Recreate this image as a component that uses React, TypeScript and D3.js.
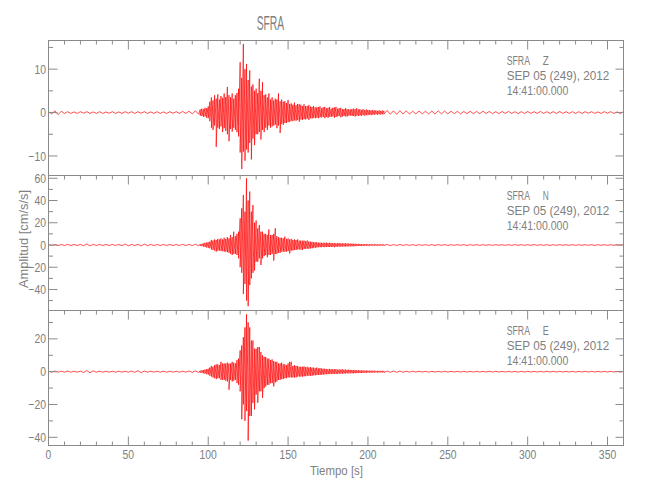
import React from "react";
import * as d3 from "d3";

// ---------------- data ----------------
// Quiet parts are digitised as alternating signed peaks (every 2 s);
// the strong-motion window (95..210 s) as per-second upper / lower envelope values.
const PRE_START = 0, PRE_STEP = 2;
const MAIN_START = 95, MAIN_STEP = 1;
const CODA_START = 212, CODA_STEP = 2;

const zPre = [0.2,-0.3,0.4,-0.5,0.3,-0.2,0.2,-0.2,0.15,-0.2,0.2,-0.15,0.2,-0.2,0.15,-0.2,0.2,-0.2,0.15,-0.15,0.2,-0.2,0.15,-0.2,0.2,-0.15,0.2,-0.2,0.2,-0.15,0.2,-0.2,0.15,-0.2,0.2,-0.2,0.15,-0.2,0.2,-0.15,0.2,-0.2,0.25,-0.2,0.3,-0.3,0.4,-0.4];
const zHi = [0.7,0.9,0.8,1.1,1.0,1.4, 2.5,3.5,2.8,4.0,3.2,4.2,3.0,3.8,3.4,4.4, 3.6,5.9,4.0,3.5,4.4,3.2,4.0,4.5,5.5,11.6, 8.0,15.8,10.0,11.2,7.5,9.7,6.0,6.5,5.0,5.5, 4.5,7.8,5.0,7.0,4.0,4.2,3.5,4.4,3.0,3.5, 2.8,3.2,3.0,4.4,2.6,3.0,2.5,2.6,2.2,2.9, 2.0,2.1,1.8,2.3,1.7,2.0,1.9,1.8,1.5,1.9, 1.5,1.5,1.7,1.4,1.3,1.5,1.2,1.2,1.3,1.4, 1.0,1.2,1.3,1.0,1.1,1.3,0.9,1.1,1.2,1.3, 0.9,1.0,1.1,0.8,0.8,1.0,0.8,0.8,0.7,0.8, 0.9,0.8,1.0,0.7,0.8,0.6,0.8,0.6,0.7,0.6, 0.6,0.5,0.6,0.5,0.5,0.4,0.5,0.4,0.45,0.4];
const zLo = [-0.7,-0.8,-1.0,-0.9,-1.2,-1.3, -2.0,-3.5,-4.0,-3.0,-7.9,-3.5,-3.8,-3.2,-4.5,-3.6, -4.2,-5.0,-6.6,-3.8,-4.4,-3.5,-4.0,-4.5,-5.5,-9.2, -13.0,-9.0,-11.1,-8.5,-9.2,-7.0,-10.8,-6.0,-7.5,-5.0, -5.0,-4.5,-6.2,-4.0,-4.5,-3.5,-4.0,-3.0,-3.5,-3.2, -3.0,-2.8,-3.6,-3.0,-4.7,-2.6,-2.8,-2.4,-2.4,-2.2, -2.2,-1.9,-2.0,-1.8,-1.9,-1.7,-2.1,-1.6,-1.7,-1.5, -1.6,-1.4,-1.7,-1.3,-1.4,-1.2,-1.3,-1.2,-1.3,-1.1, -1.1,-1.0,-1.3,-1.0,-1.2,-1.0,-1.0,-0.9,-1.2,-1.0, -0.9,-0.8,-1.1,-0.9,-0.8,-0.9,-0.9,-0.7,-0.7,-0.8, -0.8,-0.9,-0.7,-0.8,-0.7,-0.7,-0.6,-0.7,-0.6,-0.6, -0.5,-0.6,-0.5,-0.5,-0.4,-0.5,-0.4,-0.45,-0.4,-0.4];
const zCoda = [0.5,-0.4,0.4,-0.4,0.45,-0.35,0.4,-0.35,0.3,-0.3,0.35,-0.3,0.3,-0.3,0.35,-0.35,0.4,-0.3,0.35,-0.3,0.3,-0.25,0.3,-0.3,0.25,-0.25,0.3,-0.25,0.25,-0.25,0.3,-0.2,0.25,-0.25,0.2,-0.25,0.25,-0.2,0.25,-0.2,0.2,-0.25,0.2,-0.2,0.25,-0.2,0.2,-0.2,0.25,-0.2,0.2,-0.2,0.2,-0.2,0.25,-0.2,0.2,-0.2,0.2,-0.2,0.2,-0.2,0.2,-0.15,0.2,-0.2,0.15,-0.2,0.2,-0.15,0.2,-0.2,0.15,-0.2,0.2];

const nPre = [0.5,-0.5,0.4,-0.5,0.4,-0.4,0.5,-0.4,0.4,-0.4,0.5,-0.6,0.9,-0.8,0.6,-0.4,0.4,-0.4,0.4,-0.4,0.5,-0.4,0.5,-0.6,0.9,-0.7,0.5,-0.5,0.6,-0.9,0.8,-0.5,0.4,-0.4,0.4,-0.4,0.4,-0.4,0.4,-0.4,0.4,-0.4,0.5,-0.4,0.5,-0.5,0.6,-0.7];
const nHi = [0.8,1.0,1.5,2.0,2.2,2.5, 3.0,4.5,4.0,5.0,4.5,5.5,5.0,6.0,5.0,6.5, 5.5,7.0,6.0,9.0,7.0,12.0,8.0,10.0,12.0,24.0, 33.0,45.0,30.0,60.0,40.0,48.0,30.0,36.0,20.0,22.0, 15.0,18.0,12.0,12.0,10.0,10.0,9.0,14.0,9.0,9.0, 10.0,15.0,8.0,7.0,6.5,6.5,6.0,7.6,5.5,6.0, 5.0,5.5,4.5,5.0,4.5,5.0,4.0,4.0,3.8,4.0, 3.5,4.0,3.2,3.0,2.8,2.5,2.5,2.5,2.0,2.2, 2.0,2.0,1.9,2.2,1.8,2.0,1.8,1.8,1.7,1.6, 1.5,1.8,1.5,1.5,1.4,1.6,1.3,1.4,1.2,1.2, 1.2,1.1,1.0,1.0,0.9,0.9,0.8,0.8,0.8,0.7, 0.7,0.7,0.6,0.6,0.6,0.5,0.5,0.5,0.5,0.45];
const nLo = [-0.8,-1.0,-1.5,-1.8,-2.2,-2.5, -3.0,-4.0,-4.5,-5.0,-6.0,-5.0,-5.0,-5.5,-5.5,-6.0, -6.0,-6.5,-7.0,-8.0,-9.0,-8.0,-8.0,-9.0,-12.0,-20.0, -25.0,-44.0,-35.0,-50.0,-55.0,-36.0,-30.0,-25.0,-23.0,-15.0, -15.0,-12.0,-18.0,-12.0,-10.0,-9.0,-11.0,-9.0,-9.0,-8.0, -14.0,-8.0,-8.0,-7.0,-7.0,-6.0,-6.0,-6.0,-6.0,-5.5, -7.6,-5.0,-5.0,-4.5,-4.5,-4.0,-4.0,-4.0,-4.5,-3.5, -3.5,-3.2,-3.5,-3.0,-3.0,-2.5,-2.5,-2.2,-2.0,-2.0, -2.0,-1.8,-2.0,-1.8,-1.8,-1.8,-1.8,-1.6,-2.0,-1.5, -1.5,-1.5,-1.5,-1.4,-1.4,-1.3,-1.3,-1.2,-1.2,-1.2, -1.1,-1.1,-1.0,-0.9,-0.9,-0.8,-0.8,-0.8,-0.7,-0.7, -0.7,-0.6,-0.6,-0.6,-0.5,-0.5,-0.5,-0.5,-0.45,-0.45];
const nCoda = [0.5,-0.5,0.4,-0.4,0.4,-0.35,0.35,-0.3,0.3,-0.3,0.3,-0.25,0.3,-0.3,0.25,-0.3,0.3,-0.25,0.3,-0.3,0.25,-0.25,0.3,-0.25,0.25,-0.3,0.25,-0.25,0.3,-0.25,0.25,-0.25,0.25,-0.3,0.25,-0.25,0.25,-0.25,0.25,-0.25,0.3,-0.25,0.25,-0.25,0.25,-0.25,0.3,-0.25,0.25,-0.25,0.25,-0.3,0.25,-0.25,0.25,-0.25,0.25,-0.25,0.3,-0.25,0.25,-0.25,0.25,-0.25,0.25,-0.3,0.25,-0.25,0.25,-0.25,0.25,-0.25,0.25,-0.25,0.25];

const ePre = [0.3,-0.3,0.4,-0.3,0.3,-0.3,0.4,-0.3,0.3,-0.3,0.3,-0.5,0.7,-0.7,0.5,-0.3,0.3,-0.3,0.3,-0.3,0.3,-0.3,0.3,-0.3,0.3,-0.3,0.4,-0.4,0.6,-0.6,0.4,-0.3,0.3,-0.3,0.3,-0.3,0.3,-0.3,0.3,-0.3,0.3,-0.3,0.3,-0.3,0.4,-0.4,0.5,-0.5];
const eHi = [0.6,0.8,1.0,1.3,1.5,1.8, 2.5,3.5,3.0,4.0,4.5,4.5,4.0,6.0,5.0,5.0, 5.0,5.5,5.0,5.0,6.0,5.5,5.0,7.0,8.0,13.0, 16.0,21.0,27.0,35.0,30.0,27.0,19.0,19.0,14.0,14.0, 15.0,15.0,12.0,10.0,9.0,9.0,8.0,8.0,7.0,7.5, 6.5,6.0,6.0,5.0,5.0,5.5,4.5,4.5,4.0,5.0, 6.0,6.0,3.5,4.0,3.5,3.5,3.0,3.0,3.0,3.2, 2.8,3.0,2.5,2.8,2.5,2.5,2.2,2.5,2.0,2.2, 2.0,1.8,1.8,1.6,1.5,1.7,1.5,1.5,1.4,1.6, 1.3,1.4,1.2,1.5,1.2,1.3,1.1,1.2,1.0,1.1, 1.0,1.0,0.9,0.9,0.8,0.8,0.8,0.7,0.7,0.7, 0.6,0.6,0.6,0.6,0.5,0.5,0.5,0.5,0.5,0.45];
const eLo = [-0.6,-0.8,-1.0,-1.2,-1.5,-1.8, -2.5,-3.0,-3.5,-4.0,-4.5,-4.0,-4.0,-5.0,-5.0,-5.0, -5.5,-6.0,-11.0,-5.0,-6.0,-5.5,-5.0,-7.0,-8.0,-12.0, -29.0,-20.0,-30.0,-24.0,-42.0,-27.0,-27.0,-19.0,-23.0,-14.0, -19.0,-12.0,-12.0,-16.0,-10.0,-9.0,-8.0,-8.0,-7.0,-7.0, -9.0,-6.5,-6.0,-5.0,-5.0,-4.5,-4.5,-4.0,-4.0,-3.5, -3.5,-3.5,-3.5,-3.5,-3.5,-3.0,-3.0,-3.0,-3.0,-2.8, -2.8,-2.5,-2.5,-2.5,-2.5,-2.2,-2.2,-2.0,-2.0,-2.0, -1.8,-1.8,-1.6,-1.5,-1.5,-1.5,-1.4,-1.4,-1.3,-1.3, -1.3,-1.2,-1.2,-1.2,-1.1,-1.1,-1.0,-1.0,-1.0,-1.0, -1.0,-0.9,-0.9,-0.8,-0.8,-0.8,-0.7,-0.7,-0.7,-0.6, -0.6,-0.6,-0.6,-0.5,-0.5,-0.5,-0.5,-0.5,-0.45,-0.45];
const eCoda = [0.4,-0.4,0.4,-0.4,0.4,-0.35,0.3,-0.25,0.25,-0.2,0.25,-0.2,0.2,-0.25,0.2,-0.2,0.2,-0.2,0.25,-0.2,0.2,-0.2,0.2,-0.2,0.2,-0.25,0.2,-0.2,0.2,-0.2,0.2,-0.2,0.25,-0.2,0.2,-0.2,0.2,-0.2,0.2,-0.2,0.2,-0.25,0.2,-0.2,0.2,-0.2,0.2,-0.2,0.2,-0.2,0.25,-0.2,0.2,-0.2,0.2,-0.2,0.2,-0.2,0.2,-0.2,0.2,-0.2,0.2,-0.2,0.2,-0.2,0.2,-0.2,0.2,-0.2,0.2,-0.2,0.2,-0.2,0.2];

const components = ["Z", "N", "E"];
const yDomains: [number, number][] = [[-14.5, 16.6], [-58.9, 62.5], [-45.0, 37.3]];
const yMajorTicks = [[-10, 0, 10], [-40, -20, 0, 20, 40, 60], [-40, -20, 0, 20]];
const yMinorSteps = [5, 10, 10];
const xDomain: [number, number] = [0, 360];
const xMajorTicks = [0, 50, 100, 150, 200, 250, 300, 350];
const xMinorStep = 10;

const title = "SFRA";
const station = "SFRA";
const dateLine = "SEP 05 (249), 2012";
const timeLine = "14:41:00.000";
const xLabel = "Tiempo [s]";
const yLabel = "Amplitud [cm/s/s]";

// ---------------- layout ----------------
const W = 650, H = 500;
const LEFT = 48.5, RIGHT = 623.5;
const EDGES = [40.5, 175.5, 310.5, 445.5];
const AXIS = "#8a8a8a";
const TEXT = "#808080";
const FONT = "'Liberation Sans', Arial, sans-serif";

type Pt = { t: number; v: number };
function buildTrace(pre: number[], hi: number[], lo: number[], coda: number[]): Pt[] {
  const out: Pt[] = [];
  pre.forEach((v, i) => out.push({ t: PRE_START + i * PRE_STEP, v }));
  hi.forEach((h, i) => {
    const t = MAIN_START + i * MAIN_STEP;
    out.push({ t, v: h });
    out.push({ t, v: lo[i] });
  });
  coda.forEach((v, i) => out.push({ t: CODA_START + i * CODA_STEP, v }));
  return out;
}
const traces = [
  buildTrace(zPre, zHi, zLo, zCoda),
  buildTrace(nPre, nHi, nLo, nCoda),
  buildTrace(ePre, eHi, eLo, eCoda),
];

const TickLabel = ({ x, y, text, anchor }: { x: number; y: number; text: string; anchor: string }) => (
  <text transform={`translate(${x},${y}) scale(0.8,1)`} textAnchor={anchor} fontSize={13} fill={TEXT} fontFamily={FONT}>
    {text}
  </text>
);

const fmt = (v: number) => (v < 0 ? "\u2212" + Math.abs(v) : String(v));

export default function App() {
  const x = d3.scaleLinear().domain(xDomain).range([LEFT, RIGHT]);
  const xMinor = d3.range(xDomain[0], xDomain[1] + 0.001, xMinorStep);

  return (
    <svg width={W} height={H} style={{ display: "block", position: "absolute", left: 0, top: 0 }}>
      <rect width={W} height={H} fill="#fff" />
      <defs>
        {components.map((c, i) => (
          <clipPath id={`clip${i}`} key={c}>
            <rect x={LEFT} y={EDGES[i]} width={RIGHT - LEFT} height={EDGES[i + 1] - EDGES[i]} />
          </clipPath>
        ))}
      </defs>
      <text x={256.7} y={30} textLength={27.5} lengthAdjust="spacingAndGlyphs" fontSize={20} fill={TEXT} fontFamily={FONT}>
        {title}
      </text>
      {components.map((c, i) => {
        const top = EDGES[i], bottom = EDGES[i + 1];
        const y = d3.scaleLinear().domain(yDomains[i]).range([bottom, top]);
        const line = d3.line<Pt>().x((d) => x(d.t)).y((d) => y(d.v));
        const minorY = d3
          .range(Math.ceil(yDomains[i][0] / yMinorSteps[i]) * yMinorSteps[i], yDomains[i][1] + 0.001, yMinorSteps[i])
          .filter((v) => !yMajorTicks[i].includes(v));
        const isLast = i === components.length - 1;
        return (
          <g key={c}>
            <path d={line(traces[i]) || ""} fill="none" stroke="#ff0000" strokeWidth={0.7} strokeLinejoin="bevel" clipPath={`url(#clip${i})`} />
            <rect x={LEFT} y={top} width={RIGHT - LEFT} height={bottom - top} fill="none" stroke={AXIS} strokeWidth={1} />
            {xMinor.map((t) => {
              const major = xMajorTicks.includes(t);
              const len = major ? 9 : 4;
              return (
                <g key={"xt" + t}>
                  <line x1={x(t)} x2={x(t)} y1={top} y2={top + len} stroke={AXIS} />
                  {isLast && <line x1={x(t)} x2={x(t)} y1={bottom} y2={bottom - len} stroke={AXIS} />}
                </g>
              );
            })}
            {yMajorTicks[i].map((v) => (
              <g key={"ym" + v}>
                <line x1={LEFT} x2={LEFT + 9} y1={y(v)} y2={y(v)} stroke={AXIS} />
                <line x1={RIGHT} x2={RIGHT - 8} y1={y(v)} y2={y(v)} stroke={AXIS} />
                <TickLabel x={46} y={y(v) + 4.6} text={fmt(v)} anchor="end" />
              </g>
            ))}
            {minorY.map((v) => (
              <g key={"yn" + v}>
                <line x1={LEFT} x2={LEFT + 4.5} y1={y(v)} y2={y(v)} stroke={AXIS} />
                <line x1={RIGHT} x2={RIGHT - 4} y1={y(v)} y2={y(v)} stroke={AXIS} />
              </g>
            ))}
            <g fontSize={12} fill={TEXT} fontFamily={FONT}>
              <text x={506.7} y={top + 24.5} textLength={23.3} lengthAdjust="spacingAndGlyphs">{station}</text>
              <text x={542.7} y={top + 24.5} textLength={6} lengthAdjust="spacingAndGlyphs">{c}</text>
              <text x={506.7} y={top + 39.5} textLength={102.6} lengthAdjust="spacingAndGlyphs">{dateLine}</text>
              <text x={506.7} y={top + 54.5} textLength={61.6} lengthAdjust="spacingAndGlyphs">{timeLine}</text>
            </g>
            {isLast &&
              xMajorTicks.map((t) => <TickLabel key={"xl" + t} x={x(t)} y={458.5} text={String(t)} anchor="middle" />)}
          </g>
        );
      })}
      <text x={310} y={475} textLength={53} lengthAdjust="spacingAndGlyphs" fontSize={12.5} fill={TEXT} fontFamily={FONT}>
        {xLabel}
      </text>
      <text
        transform="translate(27.5,288) rotate(-90)"
        textLength={98}
        lengthAdjust="spacingAndGlyphs"
        fontSize={12.5}
        fill={TEXT}
        fontFamily={FONT}
      >
        {yLabel}
      </text>
    </svg>
  );
}
